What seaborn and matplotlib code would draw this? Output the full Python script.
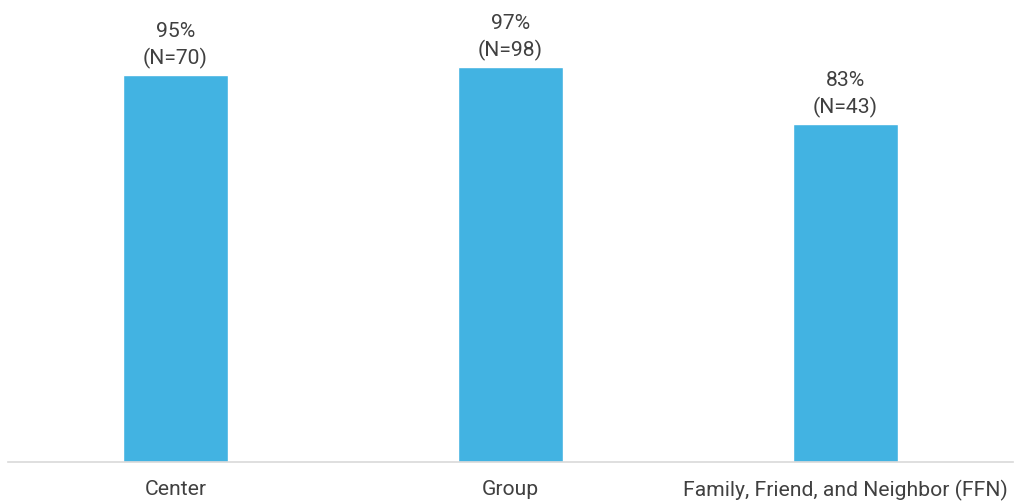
import matplotlib
matplotlib.use("Agg")
import matplotlib.pyplot as plt
import seaborn as sns
import pandas as pd

categories = ["Center", "Group", "Family, Friend, and Neighbor (FFN)"]
percent = [95, 97, 83]
counts = [70, 98, 43]

sns.set_theme(style="white")
plt.rcParams["font.family"] = ["Roboto", "DejaVu Sans"]

df = pd.DataFrame({"type": categories, "pct": percent, "n": counts})

fig = plt.figure(figsize=(10.15, 5.02), dpi=100)
ax = fig.add_axes([8 / 1015, 1 - 463 / 502, 1005 / 1015, 407 / 502])

sns.barplot(data=df, x="type", y="pct", color="#42B3E2", saturation=1,
            width=0.313, ax=ax)

ax.set_ylim(0, 100)
ax.set_xlim(-0.5, 2.5)
ax.set_xlabel("")
ax.set_ylabel("")
ax.set_yticks([])
for side in ["top", "right", "left"]:
    ax.spines[side].set_visible(False)
ax.spines["bottom"].set_color("#D9D9D9")
ax.spines["bottom"].set_linewidth(1.2)
ax.tick_params(axis="x", length=0, pad=12, labelsize=15.2, labelcolor="#404040")

for i, (p, n) in enumerate(zip(percent, counts)):
    ax.annotate(f"{p}%\n(N={n})", xy=(i, p), xytext=(0, 5),
                textcoords="offset points", ha="center", va="bottom",
                fontsize=15.2, color="#404040", linespacing=1.45)

fig.savefig("out.png", dpi=100)
